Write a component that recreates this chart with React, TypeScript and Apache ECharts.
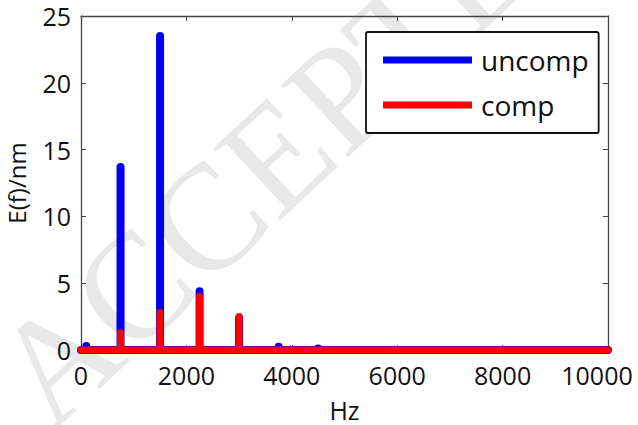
import React, { useEffect, useRef } from "react";
import * as echarts from "echarts";

const xTicks = [0, 2000, 4000, 6000, 8000, 10000];
const yTicks = [0, 5, 10, 15, 20, 25];
const peakFreqs = [100, 750, 1500, 2250, 3000, 3750, 4500];
const uncompValues = [0.3, 13.7, 23.5, 4.4, 2.4, 0.25, 0.12];
const compValues = [0.05, 1.3, 2.8, 4.0, 2.5, 0.05, 0.05];
const freqMax = 10000;
const seriesNames = ["uncomp", "comp"];

function spectrum(values: number[]) {
  const pts: number[][] = [[0, 0]];
  peakFreqs.forEach((f, i) => {
    pts.push([f, 0], [f, values[i]], [f, 0]);
  });
  pts.push([freqMax, 0]);
  return pts;
}

const FONT = "Open Sans";

export default function App() {
  const ref = useRef<HTMLDivElement>(null);
  useEffect(() => {
    const chart = echarts.init(ref.current!, null, { renderer: "svg" });
    const axisLine = { show: true, onZero: false, lineStyle: { color: "#444", width: 1.3 } };
    const tickStyle = { show: true, inside: true, length: 5, lineStyle: { color: "#444", width: 1 } };
    chart.setOption({
      animation: false,
      backgroundColor: "#fff",
      graphic: [
        {
          type: "text",
          x: 300,
          y: 132,
          rotation: (43 * Math.PI) / 180,
          z: -10,
          silent: true,
          style: {
            text: "ACCEPTED",
            fontFamily: "Liberation Serif",
            fontSize: 150,
            fill: "#e8e8e8",
            align: "center",
            verticalAlign: "middle",
          },
        },
      ],
      grid: { left: 81, top: 16, right: 30, bottom: 75, containLabel: false, outerBoundsMode: "none" },
      legend: {
        left: 366,
        top: 32,
        orient: "vertical",
        padding: [14, 10, 14, 17],
        itemGap: 17,
        itemWidth: 89,
        itemHeight: 7,
        icon: "rect",
        borderColor: "#111",
        borderWidth: 1.8,
        borderRadius: 2,
        backgroundColor: "#fff",
        textStyle: { fontFamily: FONT, fontSize: 28, lineHeight: 24, color: "#111", padding: [0, 0, 0, 4] },
        data: seriesNames,
      },
      xAxis: [
        {
          type: "value",
          min: 0,
          max: freqMax,
          interval: 2000,
          name: "Hz",
          nameLocation: "middle",
          nameGap: 47,
          nameTextStyle: { fontFamily: FONT, fontSize: 25, color: "#111" },
          axisLine,
          axisTick: tickStyle,
          splitLine: { show: false },
          axisLabel: {
            fontFamily: FONT,
            fontSize: 25,
            color: "#111",
            margin: 12,
            formatter: (v: number) =>
              v === freqMax ? "{last|" + v + "}" : xTicks.includes(v) ? String(v) : "",
            rich: {
              last: { fontFamily: FONT, fontSize: 25, color: "#111", padding: [0, 22, 0, 0] },
            },
          },
        },
        {
          type: "value",
          position: "top",
          min: 0,
          max: freqMax,
          interval: 2000,
          axisLine,
          axisTick: tickStyle,
          axisLabel: { show: false },
          splitLine: { show: false },
        },
      ],
      yAxis: [
        {
          type: "value",
          min: 0,
          max: 25,
          interval: 5,
          name: "E(f)/nm",
          nameLocation: "middle",
          nameGap: 53,
          nameTextStyle: { fontFamily: FONT, fontSize: 24, color: "#111" },
          axisLine,
          axisTick: tickStyle,
          splitLine: { show: false },
          axisLabel: {
            fontFamily: FONT,
            fontSize: 25,
            color: "#111",
            margin: 10,
            formatter: (v: number) => (yTicks.includes(v) ? String(v) : ""),
          },
        },
        {
          type: "value",
          position: "right",
          min: 0,
          max: 25,
          interval: 5,
          axisLine,
          axisTick: tickStyle,
          axisLabel: { show: false },
          splitLine: { show: false },
        },
      ],
      series: [
        {
          name: seriesNames[0],
          type: "line",
          data: spectrum(uncompValues),
          showSymbol: false,
          symbol: "none",
          clip: false,
          color: "#0000ee",
          lineStyle: { color: "#0000ee", width: 8, cap: "round", join: "round" },
        },
        {
          name: seriesNames[1],
          type: "line",
          data: spectrum(compValues),
          showSymbol: false,
          symbol: "none",
          clip: false,
          color: "#ff0000",
          lineStyle: { color: "#ff0000", width: 7, cap: "round", join: "round" },
        },
      ],
    });
    return () => chart.dispose();
  }, []);
  return <div ref={ref} style={{ width: 638, height: 425, position: "absolute", left: 0, top: 0 }} />;
}
